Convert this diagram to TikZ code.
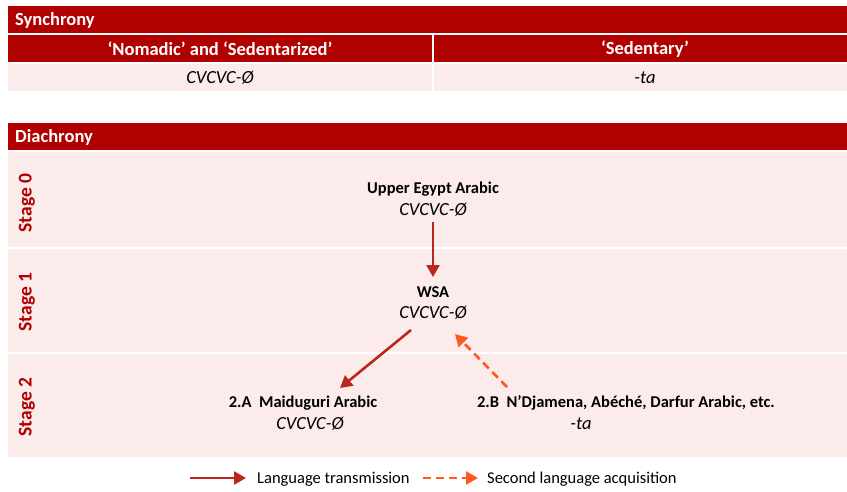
\documentclass[tikz,border=0pt]{standalone}
\usepackage{fontspec}
\setmainfont{Carlito}
\usetikzlibrary{arrows.meta}
\definecolor{hdr}{HTML}{B00000}
\definecolor{pale}{HTML}{FBEBEB}
\definecolor{arr}{HTML}{B8281E}
\definecolor{orng}{HTML}{FF5A1E}
\definecolor{stg}{HTML}{B00000}
\tikzset{
  hdrtxt/.style={text=white,font=\fontsize{18.5}{21}\selectfont\bfseries,inner sep=0pt},
  bodytxt/.style={font=\fontsize{16.5}{19}\selectfont,inner sep=0pt},
  boldtxt/.style={font=\fontsize{16.5}{19}\selectfont\bfseries,inner sep=0pt},
  itxt/.style={font=\fontsize{18.5}{21}\selectfont\itshape,inner sep=0pt},
  stagetxt/.style={text=stg,font=\fontsize{19.5}{22}\selectfont\bfseries,rotate=90,inner sep=0pt},
  solidarr/.style={draw=arr,line width=2.6pt,-{Triangle[length=12pt,width=13pt]}},
  dasharr/.style={draw=orng,line width=2.6pt,dash pattern=on 8pt off 5pt,-{Triangle[length=12pt,width=13pt]}},
}
\begin{document}
\begin{tikzpicture}[x=1pt,y=-1pt]
\useasboundingbox (0,0) rectangle (847,491);
% Synchrony table
\fill[hdr] (8,6) rectangle (847,33);
\fill[hdr] (8,35) rectangle (432,62);
\fill[hdr] (434,35) rectangle (847,62);
\fill[pale] (8,64) rectangle (432,91);
\fill[pale] (434,64) rectangle (847,91);
\node[hdrtxt,anchor=west] (syn) at (15,20) {Synchrony};
\node[hdrtxt] (nom) at (220,49) {‘Nomadic’ and ‘Sedentarized’};
\node[hdrtxt] (sed) at (645,49) {‘Sedentary’};
\node[itxt] (s1) at (220,78) {CVCVC-Ø};
\node[itxt] (s2) at (645,78) {-ta};
% Diachrony
\fill[hdr] (8,123) rectangle (847,150);
\node[hdrtxt,anchor=west] (dia) at (15,137) {Diachrony};
\fill[pale] (8,152) rectangle (847,247);
\fill[pale] (8,249) rectangle (847,352);
\fill[pale] (8,354) rectangle (847,457);
\node[stagetxt] (st0) at (27,203) {Stage 0};
\node[stagetxt] (st1) at (27,302) {Stage 1};
\node[stagetxt] (st2) at (27,407) {Stage 2};
% language nodes
\node[boldtxt] (ue) at (433,189) {Upper Egypt Arabic};
\node[itxt] (uef) at (433,210) {CVCVC-Ø};
\node[boldtxt] (wsa) at (433,292) {WSA};
\node[itxt] (wsaf) at (433,313) {CVCVC-Ø};
\node[boldtxt] (ma) at (303,403) {2.A\ \ Maiduguri Arabic};
\node[itxt] (maf) at (310,424) {CVCVC-Ø};
\node[boldtxt] (nd) at (626,403) {2.B\ \ N'Djamena, Abéché, Darfur Arabic, etc.};
\node[itxt] (ndf) at (581,424) {-ta};
% arrow anchor coordinates
\coordinate (a0s) at (433,222);
\coordinate (a0e) at (433,277);
\coordinate (a1s) at (411,330);
\coordinate (a1e) at (340,388);
\coordinate (a2s) at (507,387);
\coordinate (a2e) at (455,334);
\draw[solidarr] (a0s) -- (a0e);
\draw[solidarr] (a1s) -- (a1e);
\draw[dasharr] (a2s) -- (a2e);
% legend
\coordinate (l1s) at (190,478);
\coordinate (l1e) at (246,478);
\coordinate (l2s) at (423,478);
\coordinate (l2e) at (478,478);
\draw[solidarr] (l1s) -- (l1e);
\node[bodytxt,anchor=west] (lt1) at (257,479) {Language transmission};
\draw[dasharr] (l2s) -- (l2e);
\node[bodytxt,anchor=west] (lt2) at (487,479) {Second language acquisition};
\end{tikzpicture}
\end{document}
